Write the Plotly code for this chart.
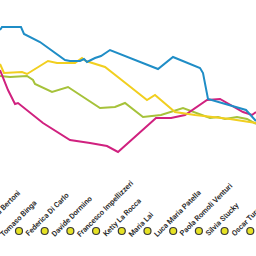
import plotly.graph_objects as go

# Category labels along the bottom (index positions on the category axis)
names = ["Francesca Bertoni", "Tomaso Binga", "Federica Di Carlo", "Davide Dormino",
         "Francesco Impellizzeri", "Ketty La Rocca", "Maria Lai", "Luca Maria Patella",
         "Paola Romoli Venturi", "Silvia Stucky", "Oscar Turco", "Marco Zanoni"]
cat_idx = list(range(len(names)))
marker_level = [231] * len(names)

# Line series: step position and level (level axis reversed, small = top)
blue_x = [0, 2, 21, 24, 40, 65, 70, 80, 84, 87, 95, 101, 110, 158, 173, 200, 203, 208, 246, 256]
blue_y = [30, 27, 27, 34, 42, 60, 61, 61, 59, 62, 58, 56, 50, 69, 57, 68, 73, 99, 110, 121]

yellow_x = [0, 4, 22, 27, 48, 57, 75, 82, 86, 100, 105, 128, 147, 155, 175, 195, 230, 256]
yellow_y = [64, 73, 72, 74, 61, 63, 63, 58, 61, 65, 67, 85, 100, 95, 112, 115, 119, 123]

green_x = [0, 10, 27, 30, 33, 35, 52, 68, 100, 115, 125, 143, 161, 183, 210, 218, 225, 237, 247, 256]
green_y = [76, 77, 76, 78, 80, 84, 92, 87, 108, 107, 103, 117, 115, 108, 118, 117, 119, 117, 119, 124]

magenta_x = [0, 8, 15, 18, 43, 70, 90, 107, 118, 156, 171, 185, 207, 220, 243, 252, 256]
magenta_y = [70, 90, 104, 103, 123, 140, 143, 146, 152, 118, 118, 115, 100, 99, 112, 115, 112]

X_RANGE = [1.261, 11.222]
Y_RANGE = [256, 0]

fig = go.Figure()
series = [
    (green_x, green_y, "#a6c23a"),
    (magenta_x, magenta_y, "#d0217f"),
    (yellow_x, yellow_y, "#f1cf1f"),
    (blue_x, blue_y, "#1f8dc6"),
]
for xs, ys, col in series:
    fig.add_trace(go.Scatter(x=xs, y=ys, mode="lines", xaxis="x2", yaxis="y",
                             line=dict(color=col, width=2), hoverinfo="skip",
                             showlegend=False))

fig.add_trace(go.Scatter(x=cat_idx, y=marker_level, mode="markers", xaxis="x", yaxis="y",
                         marker=dict(size=7, color="#e6e225",
                                     line=dict(color="#3a3a3a", width=1.2)),
                         showlegend=False, hoverinfo="skip", cliponaxis=False))

for i, n in zip(cat_idx, names):
    # convert category position to paper fraction so off-range labels still show
    px = (i - X_RANGE[0]) / (X_RANGE[1] - X_RANGE[0])
    fig.add_annotation(x=px, y=marker_level[i], xref="paper", yref="y", text=n,
                       textangle=-45, showarrow=False, xanchor="left", yanchor="bottom",
                       xshift=2, yshift=-10,
                       font=dict(family="Roboto", size=7.5, color="#2b2b2b", weight=600))

fig.update_layout(
    width=256, height=256, autosize=False,
    margin=dict(l=0, r=0, t=0, b=0),
    paper_bgcolor="white", plot_bgcolor="white",
    xaxis=dict(range=X_RANGE, visible=False),
    xaxis2=dict(range=[0, 256], overlaying="x", visible=False),
    yaxis=dict(range=Y_RANGE, visible=False),
)
fig.write_html("out.html")
